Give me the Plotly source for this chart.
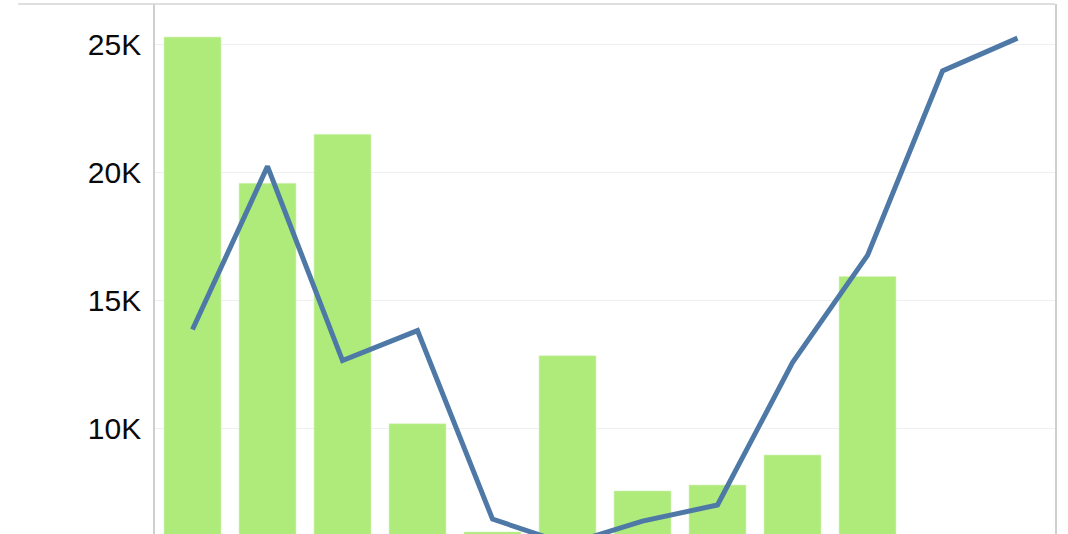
import plotly.graph_objects as go

# categories (x labels are cut off in the view, so they stay hidden)
months = ['Jan', 'Feb', 'Mar', 'Apr', 'May', 'Jun',
          'Jul', 'Aug', 'Sep', 'Oct', 'Nov', 'Dec']

# bar series (no bars for the last two months)
bar_values = [25270, 19570, 21480, 10200, 5980, 12850,
              7580, 7810, 8980, 15940, None, None]

# line series
line_values = [13870, 20230, 12660, 13830, 6480, 5500,
               6400, 7030, 12580, 16760, 23950, 25230]

tick_vals = [10000, 15000, 20000, 25000]
tick_text = ['10K', '15K', '20K', '25K']

fig = go.Figure()

fig.add_trace(go.Bar(
    x=months, y=bar_values,
    marker=dict(color='#aeeb7b', line=dict(color='#d8f5c0', width=0.6)),
    hoverinfo='skip',
))

fig.add_trace(go.Scatter(
    x=months, y=line_values,
    mode='lines',
    line=dict(color='#4e79a7', width=5),
    hoverinfo='skip',
))

# top border running over the label area too
fig.add_shape(
    type='line', xref='paper', yref='paper',
    x0=-0.152, x1=1, y0=1, y1=1,
    line=dict(color='#d4d4d4', width=1.5),
)

fig.update_layout(
    width=1068, height=534,
    margin=dict(l=155, r=13, t=4, b=0),
    paper_bgcolor='white', plot_bgcolor='white',
    showlegend=False,
    bargap=0.24,
    font=dict(family='Liberation Sans, Arial, sans-serif', size=30, color='#0a0a0a'),
    xaxis=dict(
        showticklabels=False, showgrid=False, zeroline=False,
        showline=False, ticks='',
    ),
    yaxis=dict(
        range=[5900, 26560],
        tickvals=tick_vals, ticktext=tick_text,
        showgrid=True, gridcolor='#efefef', gridwidth=1,
        zeroline=False,
        showline=True, linecolor='#cfcfcf', linewidth=1.5, mirror=True,
        ticks='outside', ticklen=6, tickcolor='rgba(0,0,0,0)',
    ),
)

# drop the default page margin so the chart sits at the window corner
fig.write_html(
    'out.html',
    config={'displayModeBar': False},
    post_script='document.body.style.margin = "0";',
)
